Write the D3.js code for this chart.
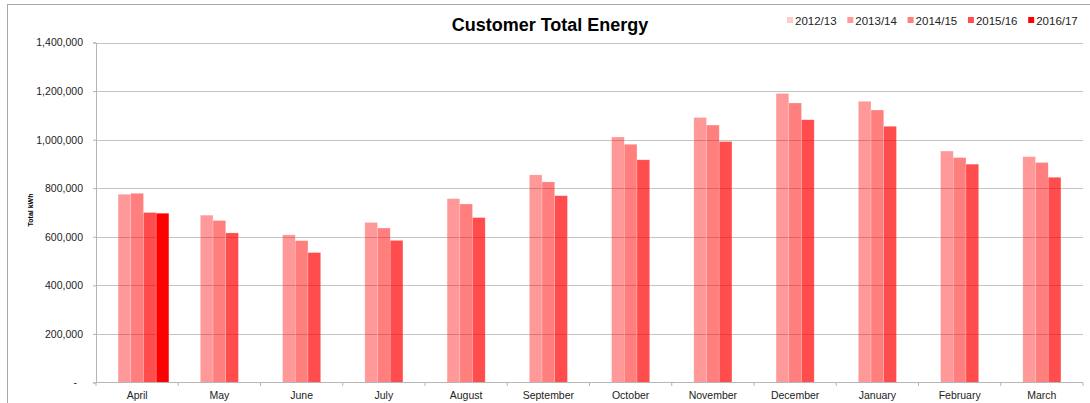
<!DOCTYPE html>
<meta charset="utf-8">
<html>
<head>
<script src="https://cdn.jsdelivr.net/npm/d3@7"></script>
<style>
  body { margin: 0; background: #fff; }
  svg { font-family: "Liberation Sans", Arial, sans-serif; }
  .grid line { stroke: #c4c4c4; stroke-width: 1px; }
  .axis path, .axis line { stroke: #b5b5b5; }
  .axis text { fill: #222; font-size: 10.5px; }
</style>
</head>
<body>
<div id="chart"></div>
<script>
// months of the financial year
var months = ["April", "May", "June", "July", "August", "September",
              "October", "November", "December", "January", "February", "March"];

var seasons = ["2012/13", "2013/14", "2014/15", "2015/16", "2016/17"];

// kWh per month (null = no bar)
var y2012 = [null, null, null, null, null, null, null, null, null, null, null, null];
var y2013 = [775000, 689000, 608000, 659000, 757000, 855000, 1011000, 1091000, 1190000, 1158000, 953000, 930000];
var y2014 = [779000, 667000, 584000, 636000, 735000, 826000, 981000, 1060000, 1151000, 1122000, 926000, 906000];
var y2015 = [700000, 616000, 535000, 585000, 679000, 769000, 917000, 992000, 1082000, 1055000, 899000, 845000];
var y2016 = [697000, null, null, null, null, null, null, null, null, null, null, null];

var yTicks = [0, 200000, 400000, 600000, 800000, 1000000, 1200000, 1400000];

var series = [y2012, y2013, y2014, y2015, y2016];
var shade = [0.2, 0.4, 0.5, 0.7, 1.0];

var width = 1090, height = 403;
var margin = {top: 42.5, right: 7, bottom: 20.5, left: 96};

var svg = d3.select("#chart").append("svg")
    .attr("width", width)
    .attr("height", height);

// outer frame
svg.append("rect")
    .attr("x", 7.5).attr("y", 4.5)
    .attr("width", width + 20).attr("height", height + 20)
    .attr("fill", "none")
    .attr("stroke", "#a8a8a8");

var x0 = d3.scaleBand()
    .domain(months)
    .range([margin.left, width - margin.right]);

var x1 = d3.scaleBand()
    .domain(seasons)
    .range([0, x0.bandwidth()])
    .paddingInner(0)
    .paddingOuter(0.738);

var y = d3.scaleLinear()
    .domain([0, 1400000])
    .range([height - margin.bottom, margin.top]);

// grid
svg.append("g").attr("class", "grid")
  .selectAll("line")
  .data(yTicks.slice(1))
  .enter().append("line")
    .attr("x1", margin.left).attr("x2", width - margin.right)
    .attr("y1", d => Math.round(y(d)) + 0.5)
    .attr("y2", d => Math.round(y(d)) + 0.5);

// bars
var rows = [];
series.forEach(function(s, i) {
  s.forEach(function(v, j) {
    if (v != null) rows.push({season: seasons[i], month: months[j], value: v, k: i});
  });
});

svg.append("g")
  .selectAll("rect")
  .data(rows)
  .enter().append("rect")
    .attr("x", d => x0(d.month) + x1(d.season))
    .attr("width", x1.bandwidth())
    .attr("y", d => y(d.value))
    .attr("height", d => y(0) - y(d.value))
    .attr("fill", "#ff0000")
    .attr("fill-opacity", d => shade[d.k])
    .attr("stroke", "#ffffff")
    .attr("stroke-opacity", 0.35)
    .attr("stroke-width", 0.6);

// y axis
var yAxis = svg.append("g")
    .attr("class", "axis")
    .attr("transform", "translate(" + margin.left + ",0)")
    .call(d3.axisLeft(y).tickValues(yTicks).tickSize(3).tickPadding(10)
      .tickFormat(d => d === 0 ? "-" : d3.format(",")(d)));
yAxis.selectAll(".tick text").filter(d => d === 0).attr("dx", -6);

// x axis
var xAxis = svg.append("g")
    .attr("class", "axis")
    .attr("transform", "translate(0," + y(0) + ")")
    .call(d3.axisBottom(x0).tickSize(0).tickPadding(9));
xAxis.select(".domain").remove();
xAxis.append("line")
    .attr("x1", margin.left).attr("x2", width - margin.right)
    .attr("stroke", "#b5b5b5");
xAxis.selectAll(".sep")
  .data(d3.range(months.length + 1))
  .enter().append("line")
    .attr("x1", i => margin.left + i * x0.step())
    .attr("x2", i => margin.left + i * x0.step())
    .attr("y1", 0).attr("y2", 3.5)
    .attr("stroke", "#b5b5b5");

// axis title
svg.append("text")
    .attr("transform", "translate(33,210) rotate(-90)")
    .attr("text-anchor", "middle")
    .attr("font-size", "7px")
    .attr("font-weight", "bold")
    .text("Total kWh");

// chart title
svg.append("text")
    .attr("x", 550).attr("y", 31)
    .attr("text-anchor", "middle")
    .attr("font-size", "18px")
    .attr("font-weight", "bold")
    .text("Customer Total Energy");

// legend
var legend = svg.append("g")
  .selectAll("g")
  .data(seasons)
  .enter().append("g")
    .attr("transform", (d, i) => "translate(" + (787 + i * 60.3) + ",0)");
legend.append("rect")
    .attr("x", 0).attr("y", 17)
    .attr("width", 6).attr("height", 6)
    .attr("fill", "#ff0000")
    .attr("fill-opacity", (d, i) => shade[i]);
legend.append("text")
    .attr("x", 8).attr("y", 25)
    .attr("font-size", "11.5px")
    .attr("fill", "#222")
    .text(d => d);
</script>
</body>
</html>
